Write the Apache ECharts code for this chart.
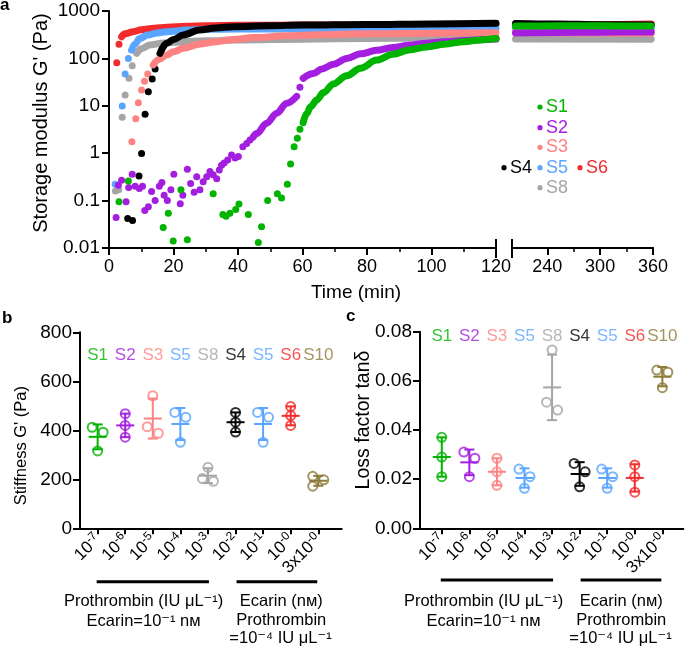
<!DOCTYPE html>
<html>
<head>
<meta charset="utf-8">
<title>Clot stiffness</title>
<script src="https://cdn.jsdelivr.net/npm/echarts@6.0.0/dist/echarts.min.js"></script>
<style>
  html, body { margin: 0; padding: 0; background: #fff; }
  #main { width: 685px; height: 649px; }
</style>
</head>
<body>
<div id="main"></div>
<script>
// ---------- panel a : storage modulus G' over time, [min, Pa] ----------
// loose dots before each curve takes off, then the dense band, then the 200-360 min part
const s1Dots = [[3.1,0.095],[6.0,0.26],[16.8,0.027],[18.4,0.054],[19.9,0.014],[22.3,0.17],[24.3,0.015],[32.3,0.14],[35.3,0.051],[36.3,0.047],[37.5,0.054],[39.3,0.065],[40.3,0.085],[43.2,0.051],[46.3,0.013],[47.3,0.028],[49.2,0.1],[52.2,0.14],[53.5,0.113],[55.3,0.22],[56.3,0.59],[57.4,1.37],[58.4,2.06],[59.2,3.2]];
const s1Band = [[60.2,4.4],[61.3,6.9],[62.5,9.5],[64.4,13.2],[66.5,19],[69.6,29],[73.7,43],[78,62],[83,92],[88,122],[93,150],[98.5,175],[104,200],[110,225],[115,245],[120,262]];
const s1Late = [[204,480],[250,486],[300,486],[358,482]];

const s2Dots = [[2.2,0.044],[2.9,0.21],[3.9,0.27],[5.3,0.095],[6.1,0.19],[7.2,0.36],[8.1,0.2],[9.4,0.18],[10.4,0.2],[11.1,0.062],[12.2,0.074],[13.2,0.155],[14.3,0.1],[15.6,0.2],[16.4,0.24],[17.1,0.13],[18.1,0.1],[19.2,0.17],[20.1,0.36],[22.1,0.086],[22.9,0.13],[24.3,0.46],[25.3,0.23],[26.4,0.15],[27.2,0.32],[28.2,0.17],[29.2,0.25],[30.3,0.32],[31.3,0.41],[32.3,0.35],[33.4,0.29],[34.2,0.44],[34.9,0.56],[35.7,0.62],[36.8,0.72],[38.0,0.92],[39.1,0.79],[40.1,0.85],[41.5,1.37],[42.7,1.6],[43.7,1.9],[59.2,24.5]];
const s2Band = [[44.7,2.2],[45.8,2.6],[48.9,4.3],[52,7],[55.1,11.3],[58.2,15.8],[59.2,null],[60.2,38],[63.4,48],[66,60],[69.6,75],[73.7,100],[78,125],[83,148],[88,170],[93,190],[98.5,208],[104,225],[110,238],[115,248],[120,255]];
const s2Late = [[204,345],[250,352],[300,358],[358,362]];

const s3Dots = [[7.1,1.75],[8.3,5.3],[9.1,11.6],[10.1,21.5],[11.0,33],[12.0,47]];
const s3Band = [[13.7,73],[15.5,95],[17.9,118],[20,138],[23,163],[28,200],[33.4,225],[38.5,250],[45,275],[55,300],[65,315],[80,330],[100,340],[120,348]];
const s3Late = [[204,355],[250,348],[300,342],[358,338]];

const s4Dots = [[5.8,0.042],[7.3,0.038],[9.3,0.33],[10.1,0.99],[11.2,6.6],[12.2,19.8],[13.4,36.8],[14.3,60]];
const s4Band = [[15.8,128],[17.9,208],[20,250],[23,312],[28,397],[33,440],[38.5,467],[50,490],[60,505],[80,520],[100,535],[120,550]];
const s4Late = [[204,545],[250,530],[300,515],[358,505]];

const s5Dots = [[1.9,0.22],[4.1,9.9],[5.0,47],[6.0,99]];
const s5Band = [[7.0,150],[8,200],[9.6,265],[12,310],[15,345],[18,366],[24,395],[30,410],[40,415],[60,420],[80,420],[100,425],[120,430]];
const s5Late = [[204,425],[358,420]];

const s6Dots = [[2.4,81],[3.1,200]];
const s6Band = [[3.9,287],[5,330],[7.5,366],[10,400],[14,435],[18,453],[24,475],[30,490],[40,500],[60,505],[80,510],[100,515],[120,520]];
const s6Late = [[204,470],[250,490],[300,515],[358,535]];

const s8Dots = [[2.0,0.16],[3.0,0.17],[4.1,5.7],[5.0,16.9],[6.2,38],[7.2,70]];
const s8Band = [[8.6,128],[10,160],[12.7,192],[17,212],[23,225],[30,235],[40,245],[60,255],[80,262],[100,268],[120,272]];
const s8Late = [[204,258],[358,255]];

// ---------- panels b and c : three replicates per condition ----------
const groupNames = ['S1', 'S2', 'S3', 'S5', 'S8', 'S4', 'S5', 'S6', 'S10'];
const concBase = ['10', '10', '10', '10', '10', '10', '10', '10', '3x10'];
const concExp = ['-7', '-6', '-5', '-4', '-3', '-2', '-1', '-0', '-0'];
const stiffness = [[412,392,316],[468,420,372],[541,415,388],[473,453,351],[249,203,192],[473,433,393],[473,453,351],[497,460,420],[212,198,172]];
const lossFactor = [[0.037,0.029,0.021],[0.031,0.0285,0.021],[0.0285,0.023,0.0175],[0.0241,0.021,0.0163],[0.0726,0.0513,0.0481],[0.0264,0.023,0.0169],[0.0241,0.021,0.0163],[0.0258,0.021,0.0147],[0.0644,0.0635,0.0572]];

const cGreen = '#00b400', cPurple = '#a41ee0', cPink = '#ff8282', cBlack = '#000000',
      cBlue = '#5aa5ff', cRed = '#f22c2c', cGray = '#a5a5a5', cOlive = '#8c7b3a';
const groupColors = [cGreen, cPurple, cPink, cBlue, cGray, cBlack, cBlue, cRed, cOlive];

const FONT = '"Liberation Sans", Arial, "DejaVu Sans", sans-serif';

function dots(data, color, xi, yi) {
  return { type: 'scatter', xAxisIndex: xi, yAxisIndex: yi, data: data, symbolSize: 7,
    itemStyle: { color: color, opacity: 1 }, silent: true };
}
function band(data, color, xi, yi) {
  return { type: 'line', xAxisIndex: xi, yAxisIndex: yi, data: data, showSymbol: false,
    smooth: 0.35, smoothMonotone: 'x', connectNulls: false, silent: true,
    lineStyle: { color: color, width: 7, cap: 'round', join: 'round' }, itemStyle: { color: color } };
}

function mean(a) { return a.reduce((s, v) => s + v, 0) / a.length; }
function sd(a) {
  const m = mean(a);
  return Math.sqrt(a.reduce((s, v) => s + (v - m) * (v - m), 0) / (a.length - 1));
}
// side-step replicates that would sit on top of each other
function spread(vals, thr) {
  const order = vals.map((v, i) => i).sort((p, q) => vals[q] - vals[p]);
  const off = vals.map(() => 0);
  for (let k = 0; k < order.length - 1; k++) {
    const i = order[k], j = order[k + 1];
    if (vals[i] - vals[j] < thr) {
      if (off[i] === 0) { off[i] = -0.2; off[j] = 0.2; } else { off[j] = -off[i]; }
    }
  }
  return off;
}

function replicateSeries(groups, thr, xi, yi) {
  const pts = [];
  groups.forEach((g, gi) => {
    const off = spread(g, thr);
    g.forEach((v, k) => pts.push({ value: [gi + 1 + off[k], v], itemStyle: { borderColor: groupColors[gi] } }));
  });
  return { type: 'scatter', xAxisIndex: xi, yAxisIndex: yi, data: pts, symbol: 'circle', symbolSize: 9,
    itemStyle: { color: 'rgba(0,0,0,0)', borderWidth: 2 }, silent: true, z: 3 };
}

function errorBars(groups, xi, yi) {
  return {
    type: 'custom', xAxisIndex: xi, yAxisIndex: yi, silent: true, z: 2,
    data: groups.map((g, i) => [i + 1, mean(g), sd(g)]),
    renderItem: function (params, api) {
      const x = api.value(0), m = api.value(1), s = api.value(2);
      const top = api.coord([x, m + s]), bot = api.coord([x, m - s]), mid = api.coord([x, m]);
      const st = { stroke: groupColors[params.dataIndex], lineWidth: 2 };
      return { type: 'group', children: [
        { type: 'line', shape: { x1: top[0], y1: top[1], x2: bot[0], y2: bot[1] }, style: st },
        { type: 'line', shape: { x1: top[0] - 5, y1: top[1], x2: top[0] + 5, y2: top[1] }, style: st },
        { type: 'line', shape: { x1: bot[0] - 5, y1: bot[1], x2: bot[0] + 5, y2: bot[1] }, style: st },
        { type: 'line', shape: { x1: mid[0] - 9, y1: mid[1], x2: mid[0] + 9, y2: mid[1] }, style: st }
      ] };
    }
  };
}

function groupTags(yVal, xi, yi) {
  return { type: 'scatter', xAxisIndex: xi, yAxisIndex: yi, symbolSize: 0, silent: true,
    data: groupNames.map((n, i) => ({ value: [i + 1, yVal],
      label: { show: true, position: 'inside', formatter: n, color: groupColors[i], fontSize: 17, fontFamily: FONT } })) };
}

const axisLine = { show: true, lineStyle: { color: '#000', width: 2 } };
const tickStyle = { color: '#000', width: 2 };
// rotated concentration labels, exponent drawn small and raised
const concLabel = {
  color: '#000', fontSize: 17, fontFamily: FONT, rotate: 45, margin: 8,
  customValues: [1, 2, 3, 4, 5, 6, 7, 8, 9],
  formatter: v => { const i = Math.round(v) - 1; return '{b|' + concBase[i] + '}{s|' + concExp[i] + '}'; },
  rich: {
    b: { fontSize: 17, fontFamily: FONT, color: '#000', lineHeight: 19, verticalAlign: 'bottom' },
    s: { fontSize: 12, fontFamily: FONT, color: '#000', lineHeight: 12, verticalAlign: 'top' }
  }
};

const option = {
  animation: false,
  backgroundColor: '#fff',
  grid: [
    { left: 109, top: 11, width: 387, height: 237, outerBoundsMode: 'none' },
    { left: 512, top: 11, width: 141, height: 237, outerBoundsMode: 'none' },
    { left: 80, top: 332.3, width: 261.7, height: 196, outerBoundsMode: 'none' },
    { left: 420, top: 331.7, width: 263.3, height: 196.6, outerBoundsMode: 'none' }
  ],
  xAxis: [
    { gridIndex: 0, type: 'value', min: 0, max: 120, interval: 20, axisLine: axisLine,
      axisTick: { length: 7, lineStyle: tickStyle },
      minorTick: { show: true, splitNumber: 2, length: 4, lineStyle: { color: '#000', width: 1.5 } },
      splitLine: { show: false },
      axisLabel: { color: '#000', fontSize: 18, fontFamily: FONT, margin: 10 } },
    { gridIndex: 1, type: 'value', position: 'bottom', min: 200, max: 360, axisLine: axisLine,
      axisTick: { length: 7, lineStyle: tickStyle, customValues: [240, 300, 360] },
      splitLine: { show: false },
      axisLabel: { color: '#000', fontSize: 18, fontFamily: FONT, margin: 10, customValues: [240, 300, 360] } },
    { gridIndex: 1, type: 'value', position: 'bottom', offset: 0, min: 200, max: 360,
      axisLine: { show: true, lineStyle: { color: '#000', width: 2 } },
      axisTick: { show: true, length: 4, lineStyle: { color: '#000', width: 1.5 }, customValues: [270, 330] },
      splitLine: { show: false }, axisLabel: { show: false } },
    { gridIndex: 2, type: 'value', min: 0.36, max: 9.85, axisLine: axisLine,
      axisTick: { length: 6, lineStyle: tickStyle, customValues: [1, 2, 3, 4, 5, 6, 7, 8, 9] },
      splitLine: { show: false }, axisLabel: concLabel },
    { gridIndex: 3, type: 'value', min: 0.21, max: 9.76, axisLine: axisLine,
      axisTick: { length: 6, lineStyle: tickStyle, customValues: [1, 2, 3, 4, 5, 6, 7, 8, 9] },
      splitLine: { show: false }, axisLabel: concLabel }
  ],
  yAxis: [
    { gridIndex: 0, type: 'log', logBase: 10, min: 0.01, max: 1000, axisLine: axisLine,
      axisTick: { length: 7, lineStyle: tickStyle }, splitLine: { show: false },
      axisLabel: { color: '#000', fontSize: 19, fontFamily: FONT, margin: 9,
        formatter: v => String(Number(v.toPrecision(3))) } },
    { gridIndex: 1, type: 'log', logBase: 10, min: 0.01, max: 1000, show: false },
    { gridIndex: 2, type: 'value', min: 0, max: 800, interval: 200, axisLine: axisLine,
      axisTick: { length: 7, lineStyle: tickStyle }, splitLine: { show: false },
      axisLabel: { color: '#000', fontSize: 19, fontFamily: FONT, margin: 8 } },
    { gridIndex: 3, type: 'value', min: 0, max: 0.08, interval: 0.02, axisLine: axisLine,
      axisTick: { length: 7, lineStyle: tickStyle }, splitLine: { show: false },
      axisLabel: { color: '#000', fontSize: 19, fontFamily: FONT, margin: 8, formatter: v => v.toFixed(2) } }
  ],
  series: []
};

// draw order: red, gray, blue, pink, black, purple, green (green ends up on top)
[[s6Dots, s6Band, s6Late, cRed], [s8Dots, s8Band, s8Late, cGray], [s5Dots, s5Band, s5Late, cBlue],
 [s3Dots, s3Band, s3Late, cPink], [s4Dots, s4Band, s4Late, cBlack], [s2Dots, s2Band, s2Late, cPurple],
 [s1Dots, s1Band, s1Late, cGreen]].forEach(s => {
  option.series.push(dots(s[0], s[3], 0, 0));
  option.series.push(band(s[1], s[3], 0, 0));
  option.series.push(band(s[2], s[3], 1, 1));
});

option.series.push(errorBars(stiffness, 3, 2));
option.series.push(replicateSeries(stiffness, 36, 3, 2));
option.series.push(groupTags(707, 3, 2));
option.series.push(errorBars(lossFactor, 4, 3));
option.series.push(replicateSeries(lossFactor, 0.0036, 4, 3));
option.series.push(groupTags(0.0781, 4, 3));

const chart = echarts.init(document.getElementById('main'));
chart.setOption(option);

// ---------- annotations that need pixel positions ----------
function px(xi, yi, pt) { return chart.convertToPixel({ xAxisIndex: xi, yAxisIndex: yi }, pt); }
function txt(x, y, text, size, color, extra) {
  return Object.assign({ type: 'text', x: x, y: y, silent: true,
    style: { text: text, fill: color || '#000', fontSize: size, fontFamily: FONT, align: 'center', verticalAlign: 'middle' } }, extra || {});
}
function seg(x1, y1, x2, y2, w) {
  return { type: 'line', silent: true, shape: { x1: x1, y1: y1, x2: x2, y2: y2 }, style: { stroke: '#000', lineWidth: w } };
}
function letter(x, y, ch) {
  return { type: 'text', x: x, y: y, silent: true,
    style: { text: ch, fill: '#000', fontSize: 17, fontWeight: 'bold', fontFamily: FONT, align: 'left', verticalAlign: 'middle' } };
}

const g = [];
g.push(letter(0, 5, 'a'));
g.push(letter(2, 318, 'b'));
g.push(letter(346, 316, 'c'));

// axis titles
g.push(txt(41.7, 123, "Storage modulus G' (Pa)", 20, '#000', { rotation: Math.PI / 2 }));
g.push(txt(356, 293, 'Time (min)', 19));
g.push(txt(21.7, 445.7, "Stiffness G' (Pa)", 16.5, '#000', { rotation: Math.PI / 2 }));
g.push(txt(363.3, 420, 'Loss factor tanδ', 19.5, '#000', { rotation: Math.PI / 2 }));

// axis break marks at 120 | 200
const br1 = px(0, 0, [120, 0.01]), br2 = px(1, 1, [200, 0.01]);
g.push(seg(br1[0], br1[1] - 9, br1[0], br1[1] + 10, 2));
g.push(seg(br2[0], br2[1] - 9, br2[0], br2[1] + 10, 2));

// legend of panel a
function key(dx, dy, name, color) {
  g.push({ type: 'circle', silent: true, shape: { cx: dx, cy: dy, r: 2.6 }, style: { fill: color } });
  g.push({ type: 'text', x: dx + 6, y: dy, silent: true,
    style: { text: name, fill: color, fontSize: 18, fontFamily: FONT, align: 'left', verticalAlign: 'middle' } });
}
key(540, 107, 'S1', cGreen);
key(540, 127.7, 'S2', cPurple);
key(540, 147.3, 'S3', cPink);
key(504, 167.7, 'S4', cBlack);
key(540, 167.7, 'S5', cBlue);
key(580, 167.7, 'S6', cRed);
key(540, 187.7, 'S8', cGray);

// grouping bars and captions under b and c
[[3, 2, 581.7, 0], [4, 3, 580, 340]].forEach(p => {
  const a1 = px(p[0], p[1], [1, 0]), a5 = px(p[0], p[1], [5, 0]);
  const a6 = px(p[0], p[1], [6, 0]), a9 = px(p[0], p[1], [9, 0]);
  g.push(seg(a1[0] - 1, p[2], a5[0] + 1, p[2], 3));
  g.push(seg(a6[0] + 1, p[2], a9[0] - 1, p[2], 3));
  const dx = p[3];
  g.push(txt(143.6 + dx, 601.7, 'Prothrombin (IU μL⁻¹)', 16.5));
  g.push(txt(143.6 + dx, 621, 'Ecarin=10⁻¹ nм', 16.5));
  g.push(txt(281.3 + dx, 601.7, 'Ecarin (nм)', 16.5));
  g.push(txt(281.3 + dx, 620, 'Prothrombin', 16.5));
  g.push(txt(280.5 + dx, 638.3, '=10⁻⁴ IU μL⁻¹', 16.5));
});

chart.setOption({ graphic: g });
</script>
</body>
</html>
